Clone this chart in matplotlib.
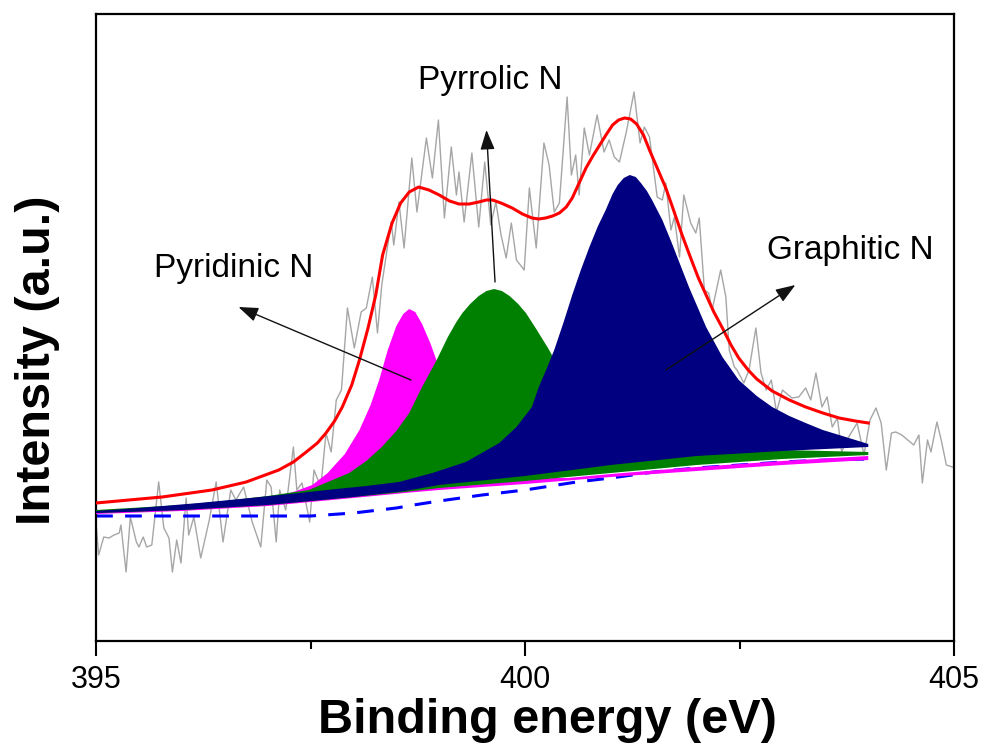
import numpy as np
import matplotlib
matplotlib.use("Agg")
import matplotlib.pyplot as plt

plt.rcParams["font.family"] = ["Liberation Sans", "DejaVu Sans"]

# raw N 1s spectrum (binding energy in eV, intensity in a.u.)
raw_x = [395.00, 395.03, 395.09, 395.15, 395.21, 395.27, 395.29, 395.35, 395.40, 395.47,
         395.50, 395.55, 395.59, 395.65, 395.73, 395.79, 395.85, 395.89, 395.94, 395.99,
         396.05, 396.08, 396.14, 396.22, 396.32, 396.40, 396.48, 396.57, 396.63, 396.72,
         396.82, 396.92, 396.99, 397.04, 397.10, 397.14, 397.21, 397.30, 397.34, 397.40,
         397.49, 397.54, 397.62, 397.68, 397.74, 397.80, 397.86, 397.93, 398.01, 398.09,
         398.15, 398.22, 398.28, 398.33, 398.44, 398.47, 398.53, 398.59, 398.68, 398.74,
         398.85, 398.92, 398.99, 399.06, 399.14, 399.20, 399.23, 399.29, 399.38, 399.46,
         399.53, 399.60, 399.66, 399.72, 399.78, 399.84, 399.90, 399.99, 400.05, 400.13,
         400.22, 400.28, 400.34, 400.40, 400.49, 400.54, 400.59, 400.63, 400.69, 400.75,
         400.84, 400.92, 400.98, 401.04, 401.10, 401.18, 401.27, 401.34, 401.39, 401.45,
         401.54, 401.60, 401.64, 401.70, 401.74, 401.80, 401.85, 401.93, 401.99, 402.03,
         402.09, 402.14, 402.18, 402.28, 402.34, 402.38, 402.44, 402.47, 402.55, 402.61,
         402.69, 402.75, 402.81, 402.87, 402.93, 403.00, 403.04, 403.11, 403.19, 403.27,
         403.33, 403.39, 403.46, 403.52, 403.58, 403.64, 403.69, 403.75, 403.87, 403.95,
         404.02, 404.09, 404.15, 404.21, 404.27, 404.32, 404.39, 404.46, 404.53, 404.59,
         404.63, 404.69, 404.73, 404.80, 404.85, 404.91, 404.98]
raw_y = [117, 85, 103, 102, 105, 107, 115, 68, 123, 98,
         93, 103, 93, 95, 158, 112, 102, 68, 100, 77,
         142, 105, 123, 82, 120, 158, 98, 150, 140, 153,
         118, 93, 160, 153, 98, 150, 130, 193, 150, 157,
         118, 170, 153, 207, 188, 240, 250, 332, 292, 328,
         332, 363, 307, 355, 418, 395, 438, 392, 482, 428,
         502, 462, 520, 422, 493, 445, 468, 418, 487, 413,
         478, 415, 438, 405, 382, 417, 380, 370, 452, 392,
         497, 475, 428, 437, 543, 465, 485, 445, 512, 485,
         525, 488, 500, 483, 478, 508, 548, 497, 513, 503,
         443, 440, 457, 410, 423, 383, 445, 417, 407, 422,
         350, 347, 330, 370, 343, 290, 273, 270, 257, 270,
         312, 267, 250, 260, 228, 250, 247, 242, 243, 252,
         240, 267, 233, 243, 213, 222, 188, 200, 217, 185,
         220, 232, 217, 170, 207, 208, 205, 200, 195, 205,
         157, 200, 188, 218, 200, 175, 173]

# cumulative fit envelope
env_x = [395.00, 395.77, 396.35, 396.75, 397.13, 397.30, 397.45, 397.58, 397.68, 397.78,
         397.87, 397.98, 398.07, 398.17, 398.26, 398.34, 398.45, 398.55, 398.65, 398.76,
         398.88, 399.00, 399.12, 399.23, 399.35, 399.46, 399.55, 399.62, 399.72, 399.85,
         399.97, 400.08, 400.16, 400.24, 400.32, 400.40, 400.48, 400.55, 400.63, 400.71,
         400.79, 400.87, 400.95, 401.02, 401.09, 401.16, 401.23, 401.30, 401.38, 401.45,
         401.55, 401.64, 401.73, 401.83, 401.93, 402.02, 402.11, 402.20, 402.30, 402.40,
         402.49, 402.60, 402.70, 402.88, 403.08, 403.27, 403.47, 403.66, 403.85, 404.00]
env_y = [137, 143, 150, 158, 170, 178, 188, 197, 207, 219,
         233, 255, 280, 312, 345, 385, 417, 437, 448, 453,
         450, 445, 439, 436, 436, 438, 440, 440, 437, 432,
         426, 422, 421, 422, 424, 427, 433, 442, 457, 472,
         484, 495, 506, 515, 520, 522, 521, 516, 505, 490,
         470, 452, 430, 405, 382, 362, 345, 328, 312, 295,
         282, 270, 261, 249, 240, 233, 227, 222, 219, 217]

# Shirley background
bg_x = [395.0, 396.0, 397.0, 397.5, 398.0, 398.5, 398.7, 399.0, 399.5, 400.0,
        400.6, 401.0, 401.5, 402.0, 402.5, 403.0, 403.5, 404.0]
bg_y = [124, 124, 124, 124, 127, 132, 135, 139, 145, 150,
        158, 162, 168, 172, 175, 178, 180, 181]

# fitted components: upper edge of each filled peak
pyridinic_x = [395.0, 395.5, 396.0, 396.5, 397.0, 397.3, 397.52, 397.7, 397.9, 398.07,
               398.2, 398.3, 398.4, 398.5, 398.58, 398.65, 398.72, 398.8, 398.9, 399.0,
               399.1, 399.2, 399.3, 399.45, 399.6, 399.8, 400.0, 400.5, 401.0, 402.0,
               403.0, 404.0]
pyridinic_y = [128, 130, 132, 136, 142, 148, 155, 167, 186, 210,
               235, 260, 290, 314, 326, 331, 328, 316, 296, 272,
               248, 226, 207, 187, 176, 167, 162, 162, 166, 173,
               179, 184]

pyrrolic_x = [395.0, 396.0, 396.5, 397.0, 397.48, 397.95, 398.15, 398.33, 398.5, 398.65,
              398.8, 398.97, 399.1, 399.2, 399.27, 399.36, 399.46, 399.55, 399.64, 399.73,
              399.82, 399.92, 400.01, 400.13, 400.26, 400.4, 400.55, 400.7, 400.9, 401.1,
              401.4, 401.8, 402.3, 403.0, 403.5, 404.0]
pyrrolic_y = [130, 135, 139, 144, 150, 167, 179, 193, 209, 227,
              253, 280, 303, 318, 327, 336, 344, 349, 351, 349,
              344, 336, 327, 311, 293, 272, 250, 232, 213, 202,
              195, 192, 191, 190, 189, 188]

graphitic_x = [395.0, 395.5, 396.2, 396.8, 397.37, 397.8, 398.15, 398.53, 398.92, 399.31,
               399.70, 399.90, 400.08, 400.16, 400.25, 400.34, 400.45, 400.55, 400.65, 400.75,
               400.85, 400.94, 401.02, 401.08, 401.15, 401.22, 401.29, 401.35, 401.42, 401.48,
               401.60, 401.71, 401.81, 401.91, 402.11, 402.30, 402.49, 402.70, 402.88, 403.08,
               403.27, 403.47, 403.66, 403.85, 404.0]
graphitic_y = [129, 132, 137, 142, 147, 151, 154, 158, 167, 178,
               197, 213, 233, 253, 271, 290, 318, 345, 370, 393,
               414, 430, 446, 455, 462, 465, 463, 457, 449, 440,
               420, 397, 375, 353, 313, 283, 260, 244, 233, 224,
               217, 210, 205, 200, 196]

# lower edges of the filled peaks
base_x = [395.0, 396.0, 397.0, 398.0, 398.6, 399.0, 400.0, 401.0, 402.0, 403.0, 404.0]
pyridinic_base = [126, 129, 134, 142, 147, 150, 156, 163, 169, 175, 180]
pyrrolic_base = [127, 130, 135, 143, 148, 152, 159, 167, 175, 181, 185]
graphitic_base = [127, 130, 135, 143, 149, 155, 164, 175, 184, 189, 193]

labels = ["Pyridinic N", "Pyrrolic N", "Graphitic N"]
label_pos = [(396.61, 372), (399.60, 560), (403.79, 390)]
arrow_tail = [(398.67, 260), (399.65, 358), (401.64, 270)]
arrow_head = [(396.66, 333), (399.55, 510), (403.15, 355)]

fig = plt.figure(figsize=(9.84, 7.49), dpi=100)
ax = fig.add_axes([0.0976, 0.1442, 0.872, 0.8371])

ax.plot(raw_x, raw_y, color="#a6a6a6", lw=1.0, zorder=1)
ax.plot(bg_x, bg_y, color="#0000ff", lw=2.2, ls=(0, (5.5, 4)), zorder=2)

comps = [(pyridinic_x, pyridinic_y, pyridinic_base, "#ff00ff"),
         (pyrrolic_x, pyrrolic_y, pyrrolic_base, "#008000"),
         (graphitic_x, graphitic_y, graphitic_base, "#000080")]
for cx, cy, cb, col in comps:
    px = np.concatenate([cx, base_x[::-1]])
    py = np.concatenate([cy, cb[::-1]])
    ax.fill(px, py, color=col, lw=0, zorder=3)

ax.plot(env_x, env_y, color="#ff0000", lw=2.2, zorder=4)

for txt, pos, tail, head in zip(labels, label_pos, arrow_tail, arrow_head):
    ax.annotate("", xy=head, xytext=tail,
                arrowprops=dict(arrowstyle="-|>,head_length=0.6,head_width=0.22",
                                color="#111111", lw=1.0, mutation_scale=20,
                                shrinkA=0, shrinkB=0), zorder=5)
    ax.text(pos[0], pos[1], txt, fontsize=24, ha="center", va="center", zorder=6)

ax.set_xlim(395, 405)
ax.set_ylim(-1, 626)
ax.set_xticks([395, 400, 405])
ax.set_xticks([397.5, 402.5], minor=True)
ax.set_yticks([])
ax.tick_params(axis="x", which="major", direction="out", length=11, width=1.5,
               labelsize=22, pad=6)
ax.tick_params(axis="x", which="minor", direction="out", length=6, width=1.5)
for s in ax.spines.values():
    s.set_linewidth(1.6)

fig.text(547.5 / 984, 16 / 749, "Binding energy (eV)", fontsize=35, fontweight="bold",
         ha="center", va="baseline")
fig.text(50 / 984, 1 - 360 / 749, "Intensity (a.u.)", fontsize=35, fontweight="bold",
         ha="center", va="baseline", rotation=90, rotation_mode="anchor")

fig.savefig("out.png", dpi=100)
